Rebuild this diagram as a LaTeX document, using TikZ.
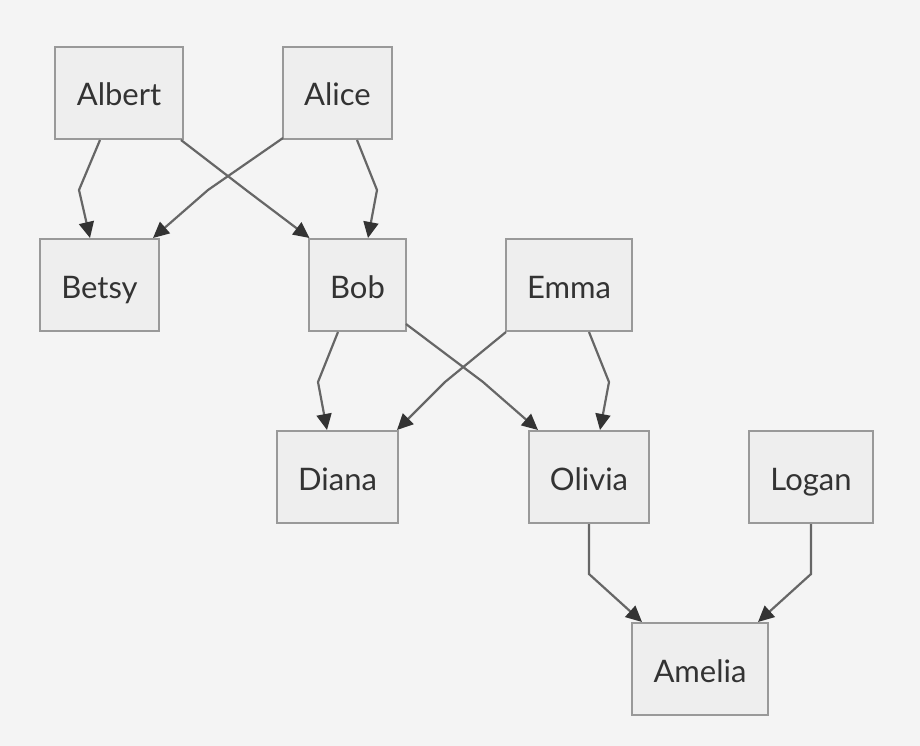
\documentclass[tikz,border=0pt]{standalone}
\usepackage{fontspec}
\setmainfont{Lato}
\usetikzlibrary{arrows.meta,calc}
\definecolor{bg}{HTML}{F4F4F4}
\definecolor{nodefill}{HTML}{EEEEEE}
\definecolor{nodeline}{HTML}{999999}
\definecolor{edgeline}{HTML}{666666}
\definecolor{tipcol}{HTML}{333333}
\definecolor{txt}{HTML}{333333}
\begin{document}
\begin{tikzpicture}[x=1pt,y=-1pt,
  person/.style={draw=nodeline,fill=nodefill,line width=2pt,minimum height=92pt,inner sep=0pt,
    text height=26pt,text depth=0pt,
    text=txt,font=\fontsize{31}{34}\selectfont},
  link/.style={draw=edgeline,line width=2.2pt,
    -{Triangle[length=16pt,width=15pt,fill=tipcol,color=tipcol]}}]
\fill[bg] (0,0) rectangle (920,746);
\useasboundingbox (0,0) rectangle (920,746);
\node[person,minimum width=128pt] (albert) at (119,93) {Albert};
\node[person,minimum width=109pt] (alice) at (337.5,93) {Alice};
\node[person,minimum width=119pt] (betsy) at (99.5,285) {Betsy};
\node[person,minimum width=97pt] (bob) at (357.5,285) {Bob};
\node[person,minimum width=126pt] (emma) at (569,285) {Emma};
\node[person,minimum width=121pt] (diana) at (337.5,477) {Diana};
\node[person,minimum width=120pt] (olivia) at (589,477) {Olivia};
\node[person,minimum width=124pt] (logan) at (811,477) {Logan};
\node[person,minimum width=136pt] (amelia) at (700,669) {Amelia};
% layer 1
\draw[link] ($(albert.south)+(-19,0)$) -- ($(albert.south)+(-40,50)$) -- ($(betsy.north)+(-9.5,0)$);
\draw[link] ($(albert.south)+(62,0)$) -- ($(albert.south)+(127,50)$) -- ($(bob.north)+(-48,0)$);
\draw[link] ($(alice.south)+(-54.5,-2)$) -- ($(alice.south)+(-129.5,50)$) -- ($(betsy.north)+(53.5,0)$);
\draw[link] ($(alice.south)+(19.5,0)$) -- ($(alice.south)+(39.5,50)$) -- ($(bob.north)+(10.5,0)$);
% layer 2
\draw[link] ($(bob.south)+(-19.5,0)$) -- ($(bob.south)+(-39.5,50)$) -- ($(diana.north)+(-10.5,0)$);
\draw[link] ($(bob.south)+(48.5,-8)$) -- ($(bob.south)+(125.5,50)$) -- ($(olivia.north)+(-51,0)$);
\draw[link] ($(emma.south)+(-63,0)$) -- ($(emma.south)+(-124,50)$) -- ($(diana.north)+(59.5,0)$);
\draw[link] ($(emma.south)+(20,0)$) -- ($(emma.south)+(40,50)$) -- ($(olivia.north)+(11,0)$);
% layer 3
\draw[link] (olivia.south) -- ($(olivia.south)+(0,50)$) -- ($(amelia.north)+(-58,0)$);
\draw[link] (logan.south) -- ($(logan.south)+(0,50)$) -- ($(amelia.north)+(58,0)$);
\end{tikzpicture}
\end{document}
